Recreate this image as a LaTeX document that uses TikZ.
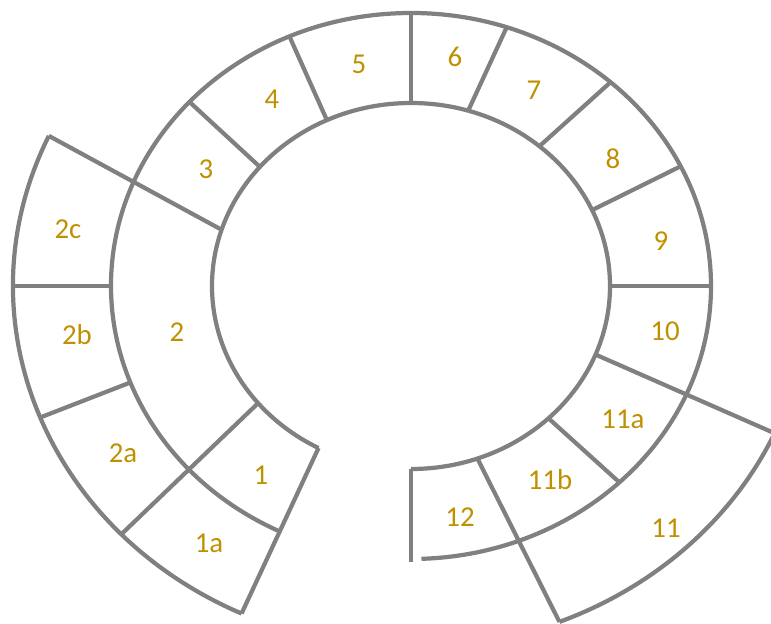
\documentclass[tikz,border=0pt]{standalone}
\usepackage{fontspec}
\setmainfont{Carlito}
\usepackage{tikz}
\usetikzlibrary{positioning}
\usepackage{xcolor}
\definecolor{ringgray}{HTML}{808080}
\definecolor{labelgold}{HTML}{BF9000}

\begin{document}
\begin{tikzpicture}[x=0.025cm,y=0.025cm,
  ring/.style={draw=ringgray,line width=3pt},
  seglabel/.style={text=labelgold,font=\fontsize{20.5}{24}\selectfont}]
\useasboundingbox (-411,-338) rectangle (360,286);
% rings
\draw[ring] (-90:199 and 183) arc[start angle=-90,end angle=242.3,x radius=199,y radius=183];
\draw[ring] (-88:300 and 273) arc[start angle=-88,end angle=244,x radius=300,y radius=273];
\draw[ring] (155.5:398 and 362) arc[start angle=155.5,end angle=244.8,x radius=398,y radius=362];
\draw[ring] (-24:398 and 362) arc[start angle=-24,end angle=-68.1,x radius=398,y radius=362];
% dividers
\draw[ring] (90:199 and 183) -- (90:300 and 273);
\draw[ring] (115:199 and 183) -- (113.9:300 and 273);
\draw[ring] (139.4:199 and 183) -- (137.6:300 and 273);
\draw[ring] (162.1:199 and 183) -- (155.5:398 and 362);
\draw[ring] (73.3:199 and 183) -- (71.4:300 and 273);
\draw[ring] (49.8:199 and 183) -- (48.3:300 and 273);
\draw[ring] (24.5:199 and 183) -- (26:300 and 273);
\draw[ring] (0:199 and 183) -- (0:300 and 273);
\draw[ring] (-22:199 and 183) -- (-24:398 and 362);
\draw[ring] (-46.3:199 and 183) -- (-46:300 and 273);
\draw[ring] (-70.5:199 and 183) -- (-68.1:398 and 362);
\draw[ring] (-90:199 and 183) -- (-90:303 and 276);
\draw[ring] (219.8:199 and 183) -- (223.3:398 and 362);
\draw[ring] (200.7:300 and 273) -- (201.3:398 and 362);
\draw[ring] (180:300 and 273) -- (180:398 and 362);
\draw[ring] (242.3:199 and 183) -- (244.8:398 and 362);
% labels
\node[seglabel] (s5) at (-52,222) {5};
\node[seglabel] (s4) at (-139,187) {4};
\node[seglabel] (s3) at (-205,117) {3};
\node[seglabel] (s2c) at (-343,57) {2c};
\node[seglabel] (s2) at (-234,-46) {2};
\node[seglabel] (s2b) at (-334,-49) {2b};
\node[seglabel] (s2a) at (-288,-167) {2a};
\node[seglabel] (s1) at (-150,-189) {1};
\node[seglabel] (s1a) at (-202,-257) {1a};
\node[seglabel] (s6) at (44,229) {6};
\node[seglabel] (s7) at (123,196) {7};
\node[seglabel] (s8) at (202,127) {8};
\node[seglabel] (s9) at (250,45) {9};
\node[seglabel] (s10) at (254,-45) {10};
\node[seglabel] (s11a) at (212,-133) {11a};
\node[seglabel] (s11b) at (139,-194) {11b};
\node[seglabel] (s12) at (49,-231) {12};
\node[seglabel] (s11) at (255,-242) {11};
\end{tikzpicture}
\end{document}
